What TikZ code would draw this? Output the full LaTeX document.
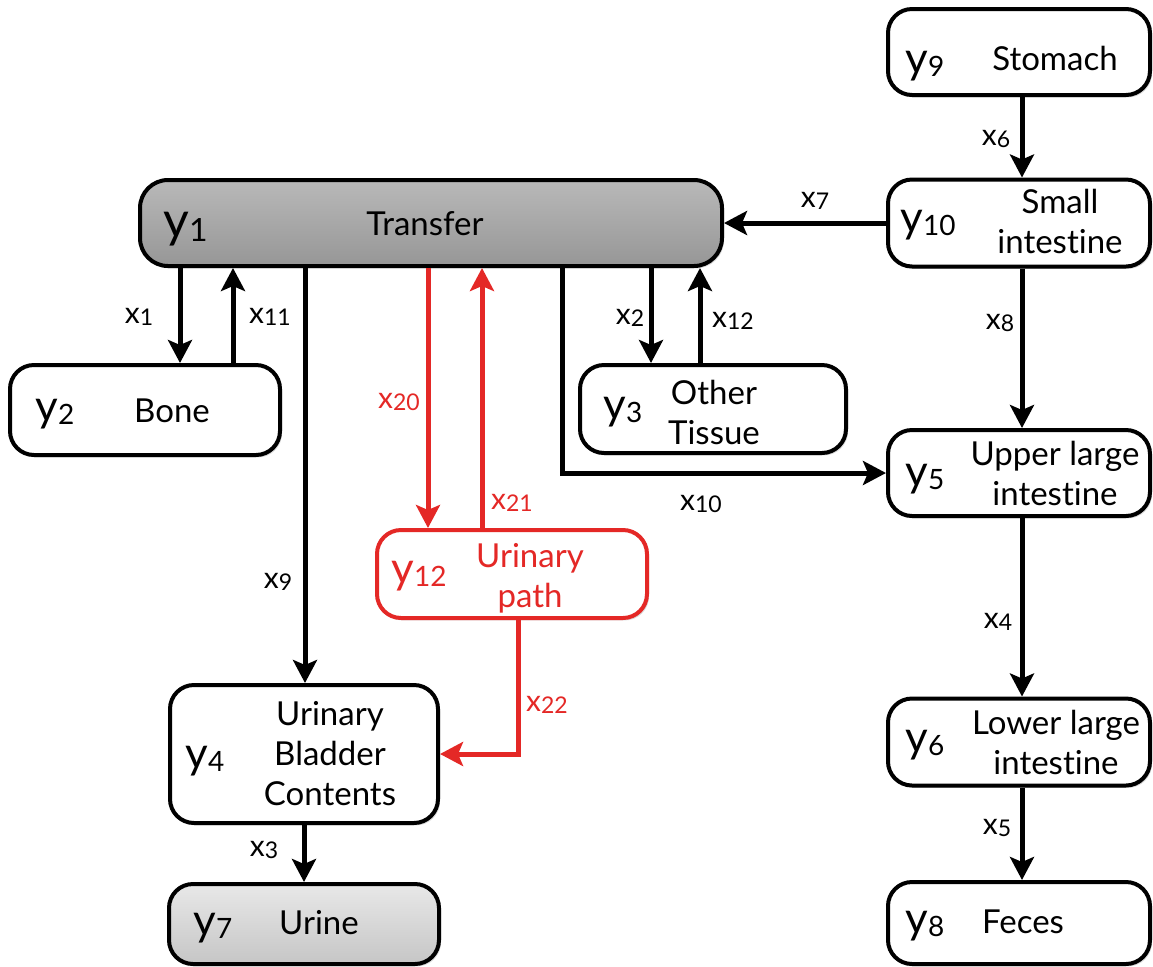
\documentclass[tikz,border=0pt]{standalone}
\usepackage{fontspec}
\setmainfont{Lato}[Ligatures=NoCommon,RawFeature={-liga;-clig;-calt;-dlig}]
\usepackage{xcolor}
\usepackage{tikz}
\usetikzlibrary{arrows.meta,shadows}
\definecolor{pathred}{RGB}{228,40,38}
\newcommand{\yname}[1]{y\raisebox{-1.5pt}{\fontsize{14}{14}\selectfont #1}}
\newcommand{\xname}[1]{x\raisebox{-1pt}{\fontsize{11.5}{11.5}\selectfont #1}}

\begin{document}
\begin{tikzpicture}[x=0.5pt,y=-0.5pt,
    comp/.style={draw,line width=2pt,rounded corners=12pt,fill=white,inner sep=0pt,
      drop shadow={shadow xshift=1pt,shadow yshift=-1.2pt,opacity=.3}},
    ylab/.style={anchor=west,inner sep=0pt,font=\fontsize{22}{22}\selectfont},
    txt/.style={inner sep=0pt,align=center,font=\fontsize{16.5}{20}\selectfont},
    flab/.style={inner sep=0pt,font=\fontsize{15}{15}\selectfont},
    flow/.style={line width=2.5pt,-{Stealth[length=11.5pt,width=12pt,inset=2.5pt]}},
    redflow/.style={flow,pathred}]
  \useasboundingbox (0,0) rectangle (1153,966);

  % compartments
  \node[comp,minimum width=291pt,minimum height=43pt,rounded corners=14pt,
    top color=gray!55,bottom color=gray!82] (tran) at (431,223) {};
  \node[comp,minimum width=131pt,minimum height=43pt] (stom) at (1019,52) {};
  \node[comp,minimum width=131pt,minimum height=43.5pt] (smin) at (1019,223) {};
  \node[comp,minimum width=135pt,minimum height=45pt] (bone) at (145,410) {};
  \node[comp,minimum width=133pt,minimum height=44pt] (othr) at (713,409) {};
  \node[comp,minimum width=131pt,minimum height=43pt] (ulin) at (1019,473) {};
  \node[comp,draw=pathred,minimum width=135pt,minimum height=44pt] (upth) at (512,574) {};
  \node[comp,minimum width=134pt,minimum height=69pt] (blad) at (304,754) {};
  \node[comp,minimum width=135pt,minimum height=40pt,
    top color=gray!18,bottom color=gray!45] (urin) at (304,924) {};
  \node[comp,minimum width=131pt,minimum height=43.5pt] (llin) at (1019,742) {};
  \node[comp,minimum width=131pt,minimum height=41pt] (fece) at (1019,923) {};

  % names and texts
  \node[ylab,font=\fontsize{25}{25}\selectfont] (ytran) at (163,229) {y\raisebox{-2pt}{\fontsize{16}{16}\selectfont 1}};
  \node[txt] (ttran) at (425,224) {Transfer};
  \node[ylab] (ystom) at (905,66) {\yname{9}};
  \node[txt] (tstom) at (1055,58) {Stomach};
  \node[ylab] (ysmin) at (900,225) {\yname{10}};
  \node[txt] (tsmin) at (1060,221) {Small\\intestine};
  \node[ylab] (ybone) at (35,414) {\yname{2}};
  \node[txt] (tbone) at (172,411) {Bone};
  \node[ylab] (yothr) at (603,412) {\yname{3}};
  \node[txt] (tothr) at (714,412) {Other\\Tissue};
  \node[ylab] (yulin) at (905,479) {\yname{5}};
  \node[txt] (tulin) at (1055,473) {Upper large\\intestine};
  \node[ylab,pathred] (yupth) at (391,576) {\yname{12}};
  \node[txt,pathred] (tupth) at (530,578) {Urinary\\path};
  \node[ylab] (yblad) at (185,761) {\yname{4}};
  \node[txt] (tblad) at (330,754) {Urinary\\Bladder\\Contents};
  \node[ylab] (yurin) at (193,928) {\yname{7}};
  \node[txt] (turin) at (319,923) {Urine};
  \node[ylab] (yllin) at (905,745) {\yname{6}};
  \node[txt] (tllin) at (1056,742) {Lower large\\intestine};
  \node[ylab] (yfece) at (905,926) {\yname{8}};
  \node[txt] (tfece) at (1023,922) {Feces};

  % transfers
  \draw[flow] (tran.south -| 180,0) -- (bone.north -| 180,0);
  \draw[flow] (bone.north -| 233,0) -- (tran.south -| 233,0);
  \draw[flow] (tran.south -| 305,0) -- (blad.north -| 305,0);
  \draw[redflow] (tran.south -| 428,0) -- (upth.north -| 428,0);
  \draw[redflow] (upth.north -| 482,0) -- (tran.south -| 482,0);
  \draw[redflow] (upth.south -| 518,0) |- (blad.east);
  \draw[flow] (tran.south -| 562,0) |- (ulin.west);
  \draw[flow] (tran.south -| 651,0) -- (othr.north -| 651,0);
  \draw[flow] (othr.north -| 700,0) -- (tran.south -| 700,0);
  \draw[flow] (smin.west) -- (tran.east);
  \draw[flow] (stom.south -| 1022,0) -- (smin.north -| 1022,0);
  \draw[flow] (smin.south -| 1022,0) -- (ulin.north -| 1022,0);
  \draw[flow] (ulin.south -| 1022,0) -- (llin.north -| 1022,0);
  \draw[flow] (llin.south -| 1022,0) -- (fece.north -| 1022,0);
  \draw[flow] (blad.south -| 304,0) -- (urin.north -| 304,0);

  % rate labels
  \node[flab] (lx1) at (139,317) {\xname{1}};
  \node[flab] (lx11) at (270,317) {\xname{11}};
  \node[flab] (lx9) at (278,582) {\xname{9}};
  \node[flab,pathred] (lx20) at (399,402) {\xname{20}};
  \node[flab,pathred] (lx21) at (512,503) {\xname{21}};
  \node[flab,pathred] (lx22) at (547,705) {\xname{22}};
  \node[flab] (lx2) at (630,318) {\xname{2}};
  \node[flab] (lx12) at (733,321) {\xname{12}};
  \node[flab] (lx10) at (701,504) {\xname{10}};
  \node[flab] (lx7) at (815,201) {\xname{7}};
  \node[flab] (lx6) at (996,139) {\xname{6}};
  \node[flab] (lx8) at (1000,323) {\xname{8}};
  \node[flab] (lx4) at (998,622) {\xname{4}};
  \node[flab] (lx5) at (997,828) {\xname{5}};
  \node[flab] (lx3) at (264,850) {\xname{3}};
\end{tikzpicture}
\end{document}
